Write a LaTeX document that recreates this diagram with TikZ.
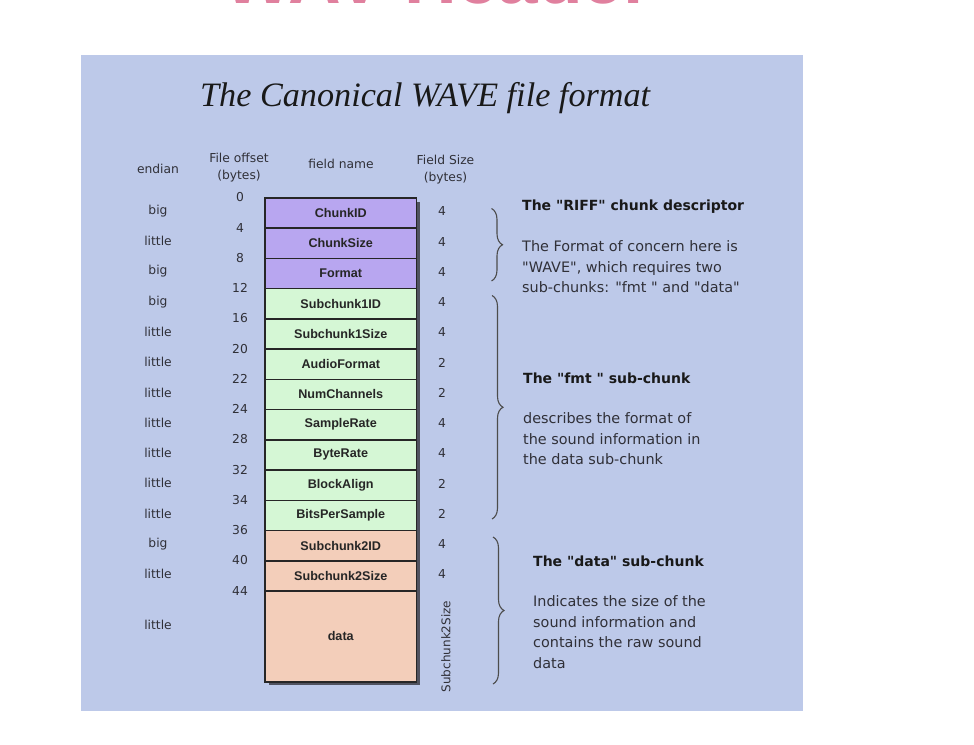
\documentclass[tikz,border=0pt]{standalone}
\usepackage{fontspec}
\setmainfont{DejaVu Sans}[Ligatures=TeXOff]
\newfontfamily\titlefont{Liberation Serif}
\newfontfamily\fieldfont{Liberation Sans}
\usetikzlibrary{decorations.pathreplacing}
\definecolor{panel}{RGB}{189,201,233}
\definecolor{riff}{RGB}{184,166,240}
\definecolor{fmtc}{RGB}{213,247,213}
\definecolor{datac}{RGB}{243,206,186}
\definecolor{pinkt}{RGB}{224,128,158}
\definecolor{txt}{RGB}{48,48,56}
\definecolor{shadowc}{RGB}{80,82,95}
\begin{document}
\begin{tikzpicture}[x=1pt,y=-1pt,
  field/.style={draw=black!85, line width=1.5pt, minimum width=151.4pt,
    minimum height=30.25pt, inner sep=0pt, anchor=north west,
    font=\fieldfont\bfseries\fontsize{12.6}{14}\selectfont, text=black!85},
  lab/.style={inner sep=0pt, text=txt, font=\fontsize{12.3}{18}\selectfont, align=center},
  head/.style={inner sep=0pt, anchor=west, text=black!90, font=\bfseries\fontsize{14}{20}\selectfont},
  body/.style={inner sep=0pt, anchor=west, align=left, text=txt, font=\fontsize{14.4}{20.5}\selectfont},
  bracestyle/.style={decorate, decoration={brace, amplitude=11pt}, line width=1.1pt, draw=black!70}
]
\useasboundingbox (0,0) rectangle (974,744);
\begin{scope}
\clip (0,0) rectangle (974,744);
\node[anchor=base west, inner sep=0pt, text=pinkt,
  font=\fieldfont\bfseries\fontsize{73}{80}\selectfont] (hdr) at (223,3) {WAV Header};
\end{scope}
\fill[panel] (80.5,55) rectangle (802.7,710.7);
\node[anchor=base west, inner sep=0pt, text=black!90,
  font=\titlefont\itshape\fontsize{34.2}{40}\selectfont] (title) at (200,106) {The Canonical WAVE file format};
% column headers
\node[lab] (hend) at (158,168.5) {endian};
\node[lab, font=\fontsize{12.3}{16.5}\selectfont] (hoff) at (239,167.5) {File offset\\(bytes)};
\node[lab] (hname) at (341,164) {field name};
\node[lab, font=\fontsize{12.3}{17}\selectfont] (hsize) at (445.5,169.5) {Field Size\\(bytes)};
% shadow
\fill[shadowc] (268.5,201.5) rectangle (419.7,685);
% rows
\foreach \i/\nm/\lbl/\col/\en/\sz in {
  0/chunkid/ChunkID/riff/big/4,
  1/chunksize/ChunkSize/riff/little/4,
  2/format/Format/riff/big/4,
  3/sc1id/Subchunk1ID/fmtc/big/4,
  4/sc1size/Subchunk1Size/fmtc/little/4,
  5/audiofmt/AudioFormat/fmtc/little/2,
  6/numch/NumChannels/fmtc/little/2,
  7/srate/SampleRate/fmtc/little/4,
  8/brate/ByteRate/fmtc/little/4,
  9/balign/BlockAlign/fmtc/little/2,
  10/bps/BitsPerSample/fmtc/little/2,
  11/sc2id/Subchunk2ID/datac/big/4,
  12/sc2size/Subchunk2Size/datac/little/4}{
  \node[field, fill=\col] (\nm) at (264.3,{197+30.25*\i}) {\lbl};
  \node[lab] (en\i) at (158,{197+30.25*\i+14}) {\en};
  \node[lab] (sz\i) at (442,{197+30.25*\i+14.5}) {\sz};
}
\node[field, fill=datac, minimum height=90.75pt] (data) at (264.3,590.25) {data};
\node[lab] (en13) at (158,625) {little};
\node[lab, rotate=90, font=\fontsize{12}{14}\selectfont] (sz13) at (446,646.5) {Subchunk2Size};
% offsets
\foreach \i/\o in {0/0,1/4,2/8,3/12,4/16,5/20,6/22,7/24,8/28,9/32,10/34,11/36,12/40,13/44}{
  \node[lab] (off\i) at (240,{197.5+30.25*\i}) {\o};
}
% braces
\coordinate (rt) at (491.5,208.5);
\coordinate (rb) at (491.5,281);
\coordinate (ft) at (492,295.5);
\coordinate (fb) at (492,519);
\coordinate (dt) at (493,537);
\coordinate (db) at (493,684);
\draw[bracestyle] (rt) -- (rb);
\draw[bracestyle] (ft) -- (fb);
\draw[bracestyle] (dt) -- (db);
% descriptions
\node[head] (riffh) at (522,207) {The "RIFF" chunk descriptor};
\node[body] (riffb) at (522,267) {The Format of concern here is\\"WAVE", which requires two\\sub-chunks: "fmt " and "data"};
\node[head] (fmth) at (523,378) {The "fmt " sub-chunk};
\node[body] (fmtb) at (523,439) {describes the format of\\the sound information in\\the data sub-chunk};
\node[head] (datah) at (533,561) {The "data" sub-chunk};
\node[body, font=\fontsize{14.4}{20.67}\selectfont] (datab) at (533,632) {Indicates the size of the\\sound information and\\contains the raw sound\\data};
\end{tikzpicture}
\end{document}
